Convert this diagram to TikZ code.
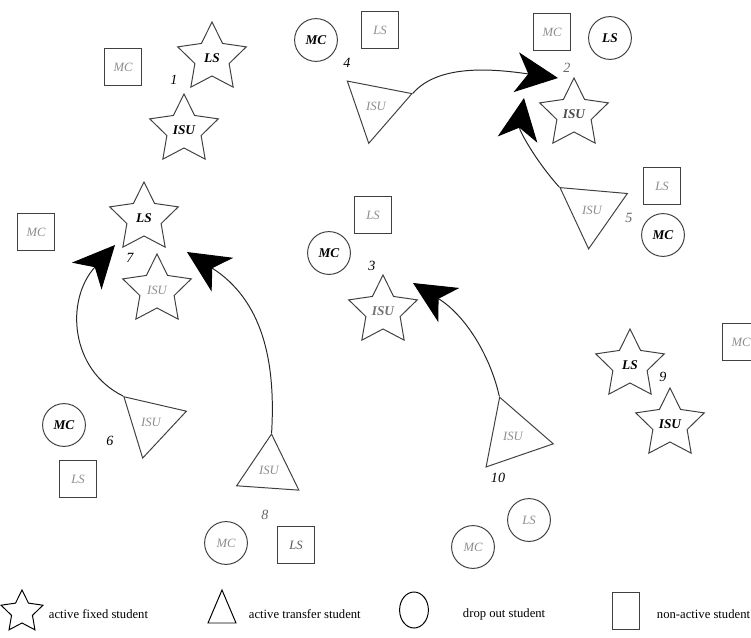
\documentclass[tikz,border=0pt]{standalone}
\usepackage{fontspec}
\setmainfont{Liberation Serif}
\usetikzlibrary{shapes.geometric,arrows.meta}

\tikzset{
  shp/.style={draw=black!75, line width=0.7pt, inner sep=0pt},
  fixed/.style={shp, star, star points=5, star point ratio=2.0, minimum size=1.8cm},
  transfer/.style={shp, regular polygon, regular polygon sides=3, shape border rotate=#1},
  dropout/.style={shp, circle, minimum size=1.07cm},
  nonactive/.style={shp, rectangle, minimum size=0.92cm},
  dk/.style={font=\fontsize{9.5}{10}\selectfont\bfseries\itshape},
  lt/.style={font=\fontsize{9}{10}\selectfont\itshape, text=black!45},
  num/.style={font=\fontsize{10}{10}\selectfont\itshape},
  move/.style={draw=black!85, line width=0.7pt, -{Stealth[length=1.05cm,width=1cm,inset=0.3cm,black]}},
  key/.style={font=\fontsize{9}{10}\selectfont, anchor=west},
}

\begin{document}
\begin{tikzpicture}[x=0.025cm, y=-0.025cm]
\useasboundingbox (0,0) rectangle (751,638);

% group 1
\node[nonactive, lt] (q1) at (123,67) {MC};
\node[fixed, dk] (s1ls) at (212,58) {LS};
\node[fixed, dk] (s1isu) at (184,130) {ISU};
\node[num] (n1) at (174,80) {1};

% group 4
\node[dropout, dk] (c4) at (316,40) {MC};
\node[nonactive, lt] (q4) at (380,30) {LS};
\node[num] (n4) at (347,63) {4};
\node[transfer=49, minimum size=1.9cm, lt] (t4) at (376,106) {ISU};

% group 2
\node[nonactive, lt] (q2) at (552,32) {MC};
\node[dropout, dk] (c2) at (610,38) {LS};
\node[num, text=black!60] (n2) at (567,68) {2};
\node[fixed, dk, text=black!70] (s2isu) at (574,114) {ISU};

% group 5
\node[nonactive, lt] (q5) at (662,186) {LS};
\node[dropout, dk] (c5) at (663,235) {MC};
\node[num, text=black!60] (n5) at (629,218) {5};
\node[transfer=55, minimum size=1.95cm, lt] (t5) at (592,210) {ISU};

% group 7
\node[nonactive, lt] (q7) at (36,232) {MC};
\node[fixed, dk] (s7ls) at (144,218) {LS};
\node[fixed, lt] (s7isu) at (157,290) {ISU};
\node[num] (n7) at (130,258) {7};

% group 3
\node[nonactive, lt] (q3) at (373,215) {LS};
\node[dropout, dk] (c3) at (329,253) {MC};
\node[num] (n3) at (372,266) {3};
\node[fixed, dk, text=black!55] (s3isu) at (383,311) {ISU};

% group 9
\node[nonactive, lt] (q9) at (741,342) {MC};
\node[fixed, dk] (s9ls) at (630,365) {LS};
\node[fixed, dk] (s9isu) at (670,424) {ISU};
\node[num] (n9) at (663,377) {9};

% group 6
\node[dropout, dk] (c6) at (64,425) {MC};
\node[nonactive, lt] (q6) at (78,479) {LS};
\node[num] (n6) at (110,441) {6};
\node[transfer=47, minimum size=1.85cm, lt] (t6) at (151,422) {ISU};

% group 8
\node[transfer=-4, minimum size=1.8cm, lt] (t8) at (269,470) {ISU};
\node[num, text=black!60] (n8) at (265,515) {8};
\node[dropout, lt] (c8) at (226,543) {MC};
\node[nonactive, lt, text=black!65] (q8) at (296,545) {LS};

% group 10
\node[transfer=19, minimum size=2.05cm, lt] (t10) at (513,436) {ISU};
\node[num] (n10) at (498,478) {10};
\node[dropout, lt] (c10ls) at (529,520) {LS};
\node[dropout, lt] (c10mc) at (473,547) {MC};

% moves
\coordinate (tip4) at (558,78);
\coordinate (tip5) at (524,98);
\coordinate (tip6) at (115,245);
\coordinate (tip8) at (187,252);
\coordinate (tip10) at (413,283);
\draw[move] (t4.corner 3) .. controls (440,62) and (500,70) .. (tip4);
\draw[move] (t5.corner 1) .. controls (535,160) and (519,130) .. (tip5);
\draw[move] (t6.corner 1) .. controls (70,370) and (65,300) .. (tip6);
\draw[move] (t8.corner 1) .. controls (276,360) and (262,300) .. (tip8);
\draw[move] (t10.corner 1) .. controls (490,355) and (465,315) .. (tip10);

% legend
\node[fixed, draw=black, minimum size=1.1cm] (kfix) at (22,612) {};
\node[key] (lfix) at (44,614) {active fixed student};
\draw[draw=black, line width=0.7pt] (208,623) -- (222,590) -- (236,623) -- cycle;
\node[key] (ltra) at (244,614) {active transfer student};
\node[shp, draw=black, ellipse, minimum width=0.72cm, minimum height=0.9cm] (kdrop) at (414,610) {};
\node[key] (ldrop) at (458,614) {drop out student};
\node[shp, rectangle, minimum width=0.68cm, minimum height=0.92cm] (knon) at (626,611) {};
\node[key] (lnon) at (652,614) {non-active student};

\end{tikzpicture}
\end{document}
